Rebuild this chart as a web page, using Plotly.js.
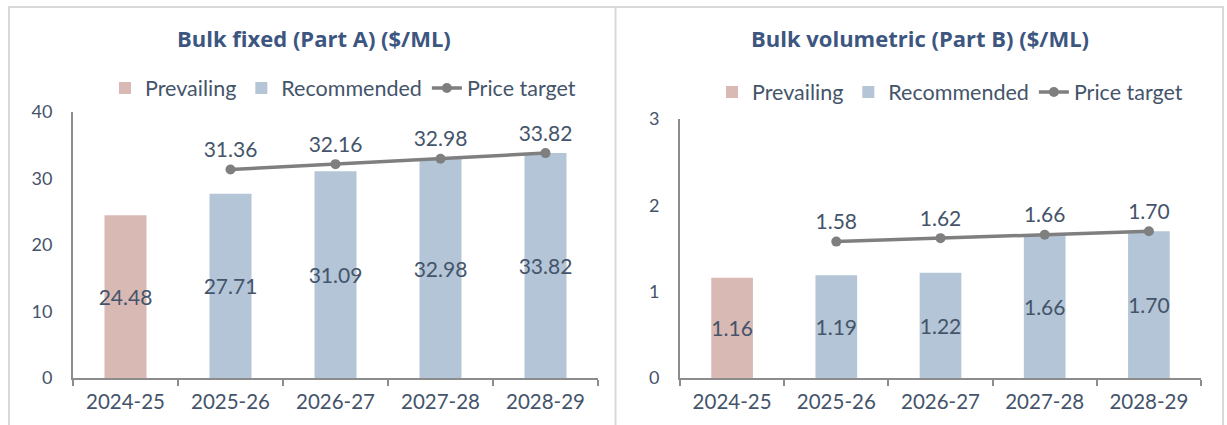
<!DOCTYPE html>
<html><head><meta charset="utf-8">
<script src="https://cdn.plot.ly/plotly-3.0.1.min.js"></script>
<style>html,body{margin:0;padding:0;background:#fff;}#chart{width:1227px;height:425px;}</style>
</head><body><div id="chart"></div>
<script>
const years = ["2024-25","2025-26","2026-27","2027-28","2028-29"];
const titleA = "Bulk fixed (Part A) ($/ML)";
const titleB = "Bulk volumetric (Part B) ($/ML)";
const prevailingA = [24.48, null, null, null, null];
const recommendedA = [null, 27.71, 31.09, 32.98, 33.82];
const targetA = [null, 31.36, 32.16, 32.98, 33.82];
const prevailingB = [1.16, null, null, null, null];
const recommendedB = [null, 1.19, 1.22, 1.66, 1.70];
const targetB = [null, 1.58, 1.62, 1.66, 1.70];
const ticksA = [0,10,20,30,40];
const ticksB = [0,1,2,3];

const TXT = '#44546A', TITLE='#3D5680', PINK='#D9B9B4', BLUE='#B3C5D7', GRAY='#7F7F7F';
const FONT = 'Lato, "Open Sans", sans-serif';
const TFONT = '"Open Sans", Lato, sans-serif';

function fmt(v, d){ return v==null ? '' : v.toFixed(d); }

function panel(prev, rec, tgt, xa, ya, lg, dec){
  const tf = {color:TXT,size:21,family:FONT};
  return [
    {type:'bar', x:years, y:prev, name:'Prevailing', xaxis:xa, yaxis:ya, legend:lg,
     marker:{color:PINK}, width:0.4, text:prev.map(v=>fmt(v,dec)), textposition:'inside', textangle:0,
     constraintext:'none', insidetextanchor:'middle', textfont:tf, hoverinfo:'skip'},
    {type:'bar', x:years, y:rec, name:'Recommended', xaxis:xa, yaxis:ya, legend:lg,
     marker:{color:BLUE}, width:0.4, text:rec.map(v=>fmt(v,dec)), textposition:'inside', textangle:0,
     constraintext:'none', insidetextanchor:'middle', textfont:tf, hoverinfo:'skip'},
    {type:'scatter', mode:'lines+markers+text', x:years, y:tgt, name:'Price target', xaxis:xa, yaxis:ya, legend:lg,
     line:{color:GRAY,width:3.5}, marker:{color:GRAY,size:10}, text:tgt.map(v=>fmt(v,dec)),
     textposition:'top center', textfont:tf, hoverinfo:'skip', cliponaxis:false}
  ];
}

const data = [].concat(
  panel(prevailingA, recommendedA, targetA, 'x', 'y', 'legend', 2),
  panel(prevailingB, recommendedB, targetB, 'x2', 'y2', 'legend2', 2)
);

const W=1227, H=425;
const px = v=>v/W, py = v=>(H-v)/H;

const xbase = {type:'category', showline:true, linecolor:'#8C8C8C', linewidth:2, ticks:'outside',
  tickson:'boundaries', ticklen:6, tickwidth:2, tickcolor:'#8C8C8C', showgrid:false, zeroline:false,
  tickfont:{color:TXT,size:20.5,family:FONT}, ticklabelstandoff:4, fixedrange:true};
const ybase = {showline:true, linecolor:'#8C8C8C', linewidth:2, ticks:'', showgrid:false, zeroline:false,
  tickfont:{color:TXT,size:18,family:FONT}, ticklabelstandoff:15, fixedrange:true};

const layout = {
  width:W, height:H, margin:{l:0,r:0,t:0,b:0}, paper_bgcolor:'#fff', plot_bgcolor:'rgba(0,0,0,0)',
  barmode:'overlay', showlegend:true,
  xaxis:Object.assign({}, xbase, {domain:[px(73),px(598)], anchor:'y'}),
  yaxis:Object.assign({}, ybase, {domain:[py(378),py(112)], range:[0,40], tickvals:ticksA, anchor:'x'}),
  xaxis2:Object.assign({}, xbase, {domain:[px(680),px(1201)], anchor:'y2'}),
  yaxis2:Object.assign({}, ybase, {domain:[py(378),py(119)], range:[0,3], tickvals:ticksB, anchor:'x2'}),
  legend:{orientation:'h', x:px(343), xanchor:'center', y:py(88), yanchor:'middle', itemwidth:30,
    font:{color:TXT,size:21.5,family:FONT}, bgcolor:'rgba(0,0,0,0)', traceorder:'normal'},
  legend2:{orientation:'h', x:px(950), xanchor:'center', y:py(92), yanchor:'middle', itemwidth:30,
    font:{color:TXT,size:21.5,family:FONT}, bgcolor:'rgba(0,0,0,0)', traceorder:'normal'},
  annotations:[
    {text:'<b>'+titleA+'</b>', xref:'paper', yref:'paper', x:px(314), y:py(38), xanchor:'center', yanchor:'middle',
     showarrow:false, font:{color:TITLE,size:22,family:TFONT}},
    {text:'<b>'+titleB+'</b>', xref:'paper', yref:'paper', x:px(920), y:py(38), xanchor:'center', yanchor:'middle',
     showarrow:false, font:{color:TITLE,size:22,family:TFONT}}
  ],
  shapes:[
    {type:'rect', xref:'paper', yref:'paper', x0:px(9), x1:px(1223), y0:py(430), y1:py(7), line:{color:'#D9D9D9',width:2}},
    {type:'line', xref:'paper', yref:'paper', x0:px(615.5), x1:px(615.5), y0:py(430), y1:py(7), line:{color:'#D9D9D9',width:2}}
  ]
};

Plotly.newPlot('chart', data, layout, {displayModeBar:false, staticPlot:true});
</script></body></html>
